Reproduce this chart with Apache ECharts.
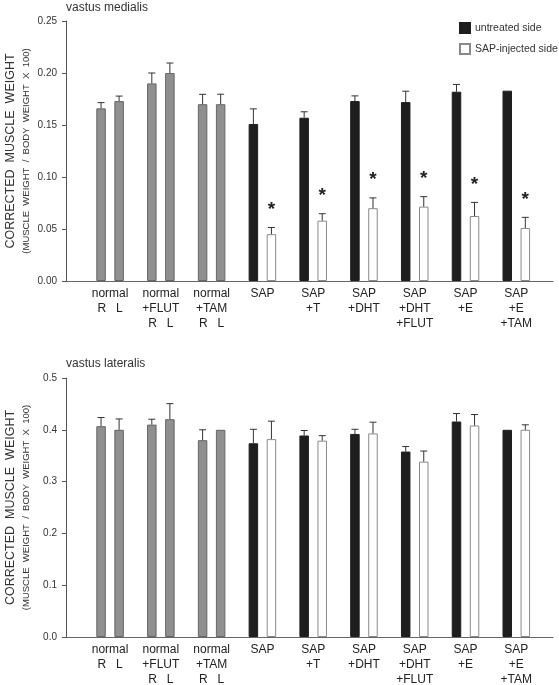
<!DOCTYPE html>
<html>
<head>
<meta charset="utf-8">
<script src="https://cdn.jsdelivr.net/npm/echarts@6/dist/echarts.min.js"></script>
<style>
html,body{margin:0;padding:0;background:#fff;}
#chart{width:559px;height:685px;}
</style>
</head>
<body>
<div id="chart"></div>
<script>
// ---------- data ----------
const groupLabels = ['normal\nR   L', 'normal\n+FLUT\nR   L', 'normal\n+TAM\nR   L', 'SAP', 'SAP\n+T', 'SAP\n+DHT', 'SAP\n+DHT\n+FLUT', 'SAP\n+E', 'SAP\n+E\n+TAM'];
const groupType = ['normal', 'normal', 'normal', 'sap', 'sap', 'sap', 'sap', 'sap', 'sap'];
const seriesNames = ['untreated side', 'SAP-injected side'];

// vastus medialis
const medUntreated = [0.166, 0.190, 0.170, 0.151, 0.157, 0.173, 0.172, 0.182, 0.183];
const medUntreatedErr = [0.0055, 0.010, 0.0095, 0.0145, 0.0057, 0.005, 0.0105, 0.007, 0];
const medInjected = [0.173, 0.200, 0.170, 0.045, 0.058, 0.070, 0.0715, 0.0625, 0.051];
const medInjectedErr = [0.0048, 0.0096, 0.0096, 0.0064, 0.0067, 0.0099, 0.0096, 0.0131, 0.0102];
const medSignificant = [0, 0, 0, 1, 1, 1, 1, 1, 1];
const medTicks = [0, 0.05, 0.10, 0.15, 0.20, 0.25];

// vastus lateralis
const latUntreated = [0.407, 0.410, 0.380, 0.374, 0.389, 0.392, 0.358, 0.416, 0.400];
const latUntreatedErr = [0.0167, 0.0104, 0.020, 0.027, 0.0096, 0.009, 0.0097, 0.0154, 0];
const latInjected = [0.400, 0.4205, 0.400, 0.382, 0.379, 0.393, 0.3385, 0.4083, 0.400];
const latInjectedErr = [0.021, 0.030, 0, 0.0347, 0.0097, 0.0217, 0.0205, 0.0212, 0.0096];
const latSignificant = [0, 0, 0, 0, 0, 0, 0, 0, 0];
const latTicks = [0, 0.1, 0.2, 0.3, 0.4, 0.5];

// ---------- styles ----------
const BAR_W = 9.5;
const GAP = 0.9;
const XMIN = -0.868, XMAX = 8.723;
const FONT = 'Liberation Sans, Arial, sans-serif';
const GRAY = '#8f8f8f', GRAY_BORDER = '#666';
const BLACK = '#1e1e1e';
const WHITE_BORDER = '#8a8a8a';

function barData(vals, side) {
  return vals.map((v, i) => {
    const normal = groupType[i] === 'normal';
    let style;
    if (normal) style = {color: GRAY, borderColor: GRAY_BORDER, borderWidth: 1};
    else if (side === 0) style = {color: BLACK, borderColor: BLACK, borderWidth: 1};
    else style = {color: '#fff', borderColor: WHITE_BORDER, borderWidth: 1};
    return {value: [i, v], itemStyle: style};
  });
}

function barSeries(name, vals, side, axisIdx) {
  return {
    type: 'bar', name: name, xAxisIndex: axisIdx, yAxisIndex: axisIdx,
    barWidth: BAR_W, barGap: (GAP * 100) + '%',
    itemStyle: side === 0 ? {color: BLACK, borderColor: BLACK, borderWidth: 1}
                          : {color: '#fff', borderColor: WHITE_BORDER, borderWidth: 1},
    data: barData(vals, side), silent: true
  };
}

function errSeries(vals, errs, sig, side, axisIdx) {
  const dx = (side === 0 ? -1 : 1) * (BAR_W + BAR_W * GAP) / 2;
  return {
    type: 'custom', name: 'err' + axisIdx + side, xAxisIndex: axisIdx, yAxisIndex: axisIdx,
    silent: true, z: 5,
    data: vals.map((v, i) => [i, v, errs[i], sig[i]]),
    renderItem: function (params, api) {
      const x = api.value(0), m = api.value(1), e = api.value(2), s = api.value(3);
      const p0 = api.coord([x, m]);
      const p1 = api.coord([x, m + e]);
      const cx = p0[0] + dx;
      const children = [];
      if (e > 0) {
        children.push({type: 'line', shape: {x1: cx, y1: p0[1], x2: cx, y2: p1[1]}, style: {stroke: '#333', lineWidth: 1}});
        children.push({type: 'line', shape: {x1: cx - 3.5, y1: p1[1], x2: cx + 3.5, y2: p1[1]}, style: {stroke: '#333', lineWidth: 1}});
      }
      if (s) {
        children.push({type: 'text', style: {text: '*', x: cx, y: p1[1] - 18, align: 'center', verticalAlign: 'middle',
          font: 'bold 19px ' + FONT, fill: '#222'}});
      }
      return {type: 'group', children: children};
    }
  };
}

function yAxis(ticks, digits, idx) {
  return {
    type: 'value', gridIndex: idx, min: ticks[0], max: ticks[ticks.length - 1],
    interval: ticks[1] - ticks[0],
    axisLine: {show: true, onZero: false, lineStyle: {color: '#555', width: 1}},
    axisTick: {show: true, length: 4, lineStyle: {color: '#555'}},
    splitLine: {show: false},
    axisLabel: {fontSize: 10, color: '#333', fontFamily: FONT, margin: 9, formatter: v => v.toFixed(digits)},
    name: '{a|CORRECTED  MUSCLE  WEIGHT}\n{b|(MUSCLE  WEIGHT  /  BODY  WEIGHT  X  100)}',
    nameLocation: 'middle', nameRotate: 90, nameGap: 33, nameMoveOverlap: false,
    nameTextStyle: {
      fontFamily: FONT, color: '#333',
      rich: {
        a: {fontSize: 12.5, lineHeight: 19, fontFamily: FONT, color: '#333'},
        b: {fontSize: 9.5, lineHeight: 13, fontFamily: FONT, color: '#333'}
      }
    }
  };
}

function xAxis(idx) {
  return {
    type: 'value', gridIndex: idx, min: XMIN, max: XMAX,
    axisLine: {show: true, onZero: false, lineStyle: {color: '#666', width: 1}},
    axisTick: {show: false},
    splitLine: {show: false},
    axisLabel: {
      customValues: groupLabels.map((_, i) => i),
      formatter: v => groupLabels[Math.round(v)],
      fontSize: 12, lineHeight: 15, color: '#222', fontFamily: FONT, margin: 5
    }
  };
}

const chart = echarts.init(document.getElementById('chart'), null, {renderer: 'canvas'});
chart.setOption({
  animation: false,
  backgroundColor: '#fff',
  title: [
    {text: 'vastus medialis', left: 66, top: 2, padding: 0, textStyle: {fontSize: 12, fontWeight: 'normal', color: '#333', fontFamily: FONT}},
    {text: 'vastus lateralis', left: 66, top: 358, padding: 0, textStyle: {fontSize: 12, fontWeight: 'normal', color: '#333', fontFamily: FONT}}
  ],
  legend: {
    data: seriesNames, orient: 'vertical', left: 459, top: 22, padding: 0,
    itemWidth: 10, itemHeight: 10, itemGap: 9, icon: 'rect',
    textStyle: {fontSize: 10.5, color: '#333', fontFamily: FONT}
  },
  grid: [
    {left: 66, top: 21, width: 487, height: 260, containLabel: false, outerBoundsMode: 'none'},
    {left: 66, top: 378, width: 487, height: 259, containLabel: false, outerBoundsMode: 'none'}
  ],
  xAxis: [xAxis(0), xAxis(1)],
  yAxis: [yAxis(medTicks, 2, 0), yAxis(latTicks, 1, 1)],
  series: [
    barSeries(seriesNames[0], medUntreated, 0, 0),
    barSeries(seriesNames[1], medInjected, 1, 0),
    errSeries(medUntreated, medUntreatedErr, [0,0,0,0,0,0,0,0,0], 0, 0),
    errSeries(medInjected, medInjectedErr, medSignificant, 1, 0),
    barSeries(seriesNames[0], latUntreated, 0, 1),
    barSeries(seriesNames[1], latInjected, 1, 1),
    errSeries(latUntreated, latUntreatedErr, [0,0,0,0,0,0,0,0,0], 0, 1),
    errSeries(latInjected, latInjectedErr, latSignificant, 1, 1)
  ]
});
</script>
</body>
</html>
